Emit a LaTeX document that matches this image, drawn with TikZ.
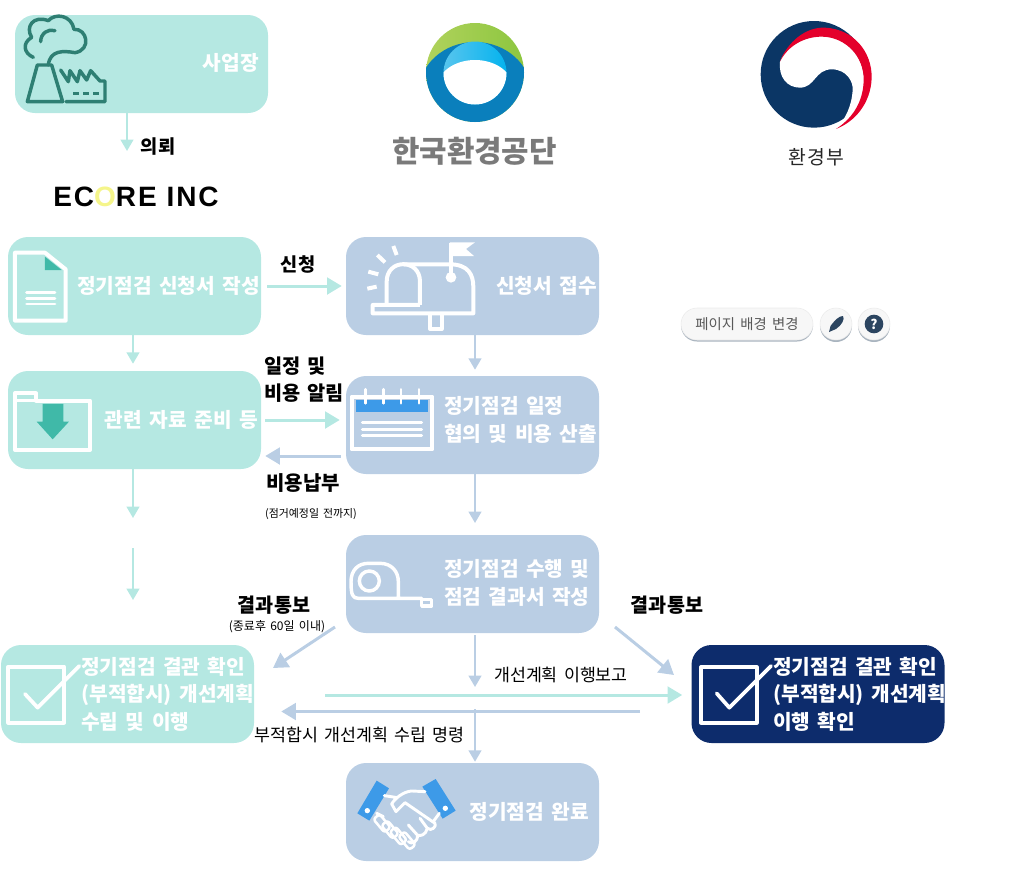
\documentclass[tikz,border=0pt]{standalone}
\usepackage{fontspec}
\setmainfont{Noto Sans CJK KR}[WordSpace=1.6]
\newfontfamily\latinfont{Liberation Sans}
\usetikzlibrary{arrows.meta}
\definecolor{tealbg}{HTML}{B5E8E2}
\definecolor{bluebg}{HTML}{BACEE4}
\definecolor{navybg}{HTML}{0D2C6C}
\definecolor{tealdark}{HTML}{2E7F73}
\definecolor{tealmid}{HTML}{40B9A8}
\definecolor{iconblue}{HTML}{3D9AE8}
\definecolor{taegeuk}{HTML}{0B3665}
\definecolor{taegeukred}{HTML}{E4002B}
\definecolor{ringblue}{HTML}{0A7FBC}
\definecolor{ringgreena}{HTML}{B0D25C}
\definecolor{ringgreenb}{HTML}{8CC63F}
\definecolor{ringcyana}{HTML}{5CC6EE}
\definecolor{ringcyanb}{HTML}{00B2EE}
\definecolor{btnshadow}{HTML}{A9B4BF}
\definecolor{btndark}{HTML}{2C4560}
\tikzset{
  flowbox/.style={minimum width=189.75pt,minimum height=73.5pt,inner sep=0,rounded corners=15pt},
  tealbox/.style={flowbox,fill=tealbg},
  bluebox/.style={flowbox,fill=bluebg},
  navybox/.style={flowbox,fill=navybg},
  boxtext/.style={text=white,font=\fontsize{15.2}{20.6}\selectfont\bfseries,inner sep=0,align=left},
  flowlabel/.style={font=\fontsize{14}{20.2}\selectfont\bfseries,inner sep=0,align=left},
  flownote/.style={font=\fontsize{13}{18}\selectfont,inner sep=0},
  smallnote/.style={font=\fontsize{8.2}{10}\selectfont,inner sep=0},
  thinarrow/.style={line width=1.5pt,-{Triangle[length=8.5pt,width=9.5pt]}},
  thickarrow/.style={line width=2.25pt,-{Triangle[length=11pt,width=12.5pt]}},
  iconline/.style={draw=white,line width=3pt,line join=round,line cap=round},
}
\begin{document}
\begin{tikzpicture}[x=0.75pt,y=-0.75pt]
\useasboundingbox (0,0) rectangle (1014,896);

%boxes
\node[tealbox] (site) at (141.5,64) {};
\node[tealbox] (apply) at (134.5,286) {};
\node[tealbox] (prep) at (134.5,420) {};
\node[bluebox] (receive) at (472.5,286) {};
\node[bluebox] (schedule) at (472.5,425) {};
\node[bluebox] (perform) at (472.5,584) {};
\node[tealbox] (checkl) at (127.5,694) {};
\node[navybox] (checkr) at (818,694) {};
\node[bluebox] (done) at (472.5,812) {};

%box texts
\node[boxtext,anchor=east] (sitetext) at (259,63) {사업장};
\node[boxtext,anchor=east] (applytext) at (260,286) {정기점검 신청서 작성};
\node[boxtext,anchor=east] (preptext) at (258,420) {관련 자료 준비 등};
\node[boxtext,anchor=east] (receivetext) at (597,286) {신청서 접수};
\node[boxtext,anchor=west] (scheduletext) at (444,420) {정기점검 일정\\협의 및 비용 산출};
\node[boxtext,anchor=west] (performtext) at (444,583) {정기점검 수행 및\\점검 결과서 작성};
\node[boxtext,anchor=west] (checkltext) at (81,694) {정기점검 결관 확인\\(부적합시) 개선계획\\수립 및 이행};
\node[boxtext,anchor=west] (checkrtext) at (773,694) {정기점검 결관 확인\\(부적합시) 개선계획\\이행 확인};
\node[boxtext,anchor=east] (donetext) at (589,812) {정기점검 완료};

%free ends
\coordinate (sitefoot) at (127,151);
\coordinate (leftx) at (133,0);
\coordinate (flowx) at (475,0);
\coordinate (gapa) at (133,518);
\coordinate (gapb) at (133,548);
\coordinate (gapc) at (133,600);
\coordinate (scheduleend) at (475,523);
\coordinate (payrow) at (0,456);
\coordinate (notelstart) at (335,627);
\coordinate (notelend) at (273,668);
\coordinate (noterstart) at (615,627);
\coordinate (noterend) at (674,675);
\coordinate (performend) at (475,687);
\coordinate (donestart) at (475,709);
\coordinate (reportstart) at (325,695);
\coordinate (orderstart) at (640,711.5);

%teal arrows
\draw[thinarrow,tealbg] (site.south -| sitefoot) -- (sitefoot);
\draw[thinarrow,tealbg,shorten >=5.25pt] (apply.south -| leftx) -- (prep.north -| leftx);
\draw[thinarrow,tealbg] (prep.south -| leftx) -- (gapa);
\draw[thinarrow,tealbg] (gapb) -- (gapc);
\draw[thickarrow,tealbg,shorten <=4.5pt,shorten >=3pt] (apply.east) -- (receive.west |- apply.east);
\draw[thickarrow,tealbg,shorten <=3pt,shorten >=4.5pt] (prep.east) -- (schedule.west |- prep.east);
\draw[thickarrow,tealbg,shorten >=6.75pt] (reportstart) -- (checkr.west |- reportstart);

%blue arrows
\draw[thinarrow,bluebg,shorten >=4.5pt] (receive.south -| flowx) -- (schedule.north -| flowx);
\draw[thinarrow,bluebg] (schedule.south -| flowx) -- (scheduleend);
\draw[thinarrow,bluebg,shorten <=1.5pt] (perform.south -| flowx) -- (performend);
\draw[thinarrow,bluebg,shorten >=0.75pt] (donestart) -- (done.north -| flowx);
\draw[thickarrow,bluebg,shorten <=3.75pt,shorten >=3pt] (schedule.west |- payrow) -- (prep.east |- payrow);
\draw[thickarrow,bluebg] (notelstart) -- (notelend);
\draw[thickarrow,bluebg] (noterstart) -- (noterend);
\draw[thickarrow,bluebg,shorten >=20.25pt] (orderstart) -- (checkl.east |- orderstart);

%labels
\node[flowlabel] (asklabel) at (158,147) {의뢰};
\node[flowlabel] (applylabel) at (298,264) {신청};
\node[flowlabel,anchor=west,font=\fontsize{14.8}{20.2}\selectfont\bfseries] (noticelabel) at (264,380) {일정 및\\비용 알림};
\node[flowlabel,font=\fontsize{15}{20}\selectfont\bfseries] (paylabel) at (303,483) {비용납부};
\node[smallnote] (paynote) at (311,514) {(점거예정일 전까지)};
\node[flowlabel,font=\fontsize{14.7}{20}\selectfont\bfseries] (resultl) at (274,605) {결과통보};
\node[smallnote,font=\fontsize{9}{10}\selectfont] (resultlnote) at (277,627) {(종료후 60일 이내)};
\node[flowlabel,font=\fontsize{14.7}{20}\selectfont\bfseries] (resultr) at (667,605) {결과통보};
\node[flownote] (reportlabel) at (561,675) {개선계획 이행보고};
\node[flownote] (orderlabel) at (359.5,735) {부적합시 개선계획 수립 명령};

%ecore
\node[inner sep=0,text=black,font=\latinfont\bfseries\fontsize{21}{24}\selectfont\addfontfeature{LetterSpace=7}] (ecore) at (136,197) {EC{\color[HTML]{F5F58A}O}RE INC};

%keco logo
\begin{scope}
\clip (475,72.5) ellipse [x radius=49,y radius=49.5];
\shade[left color=ringgreena,right color=ringgreenb] (426,20) rectangle (525,130);
\fill[ringblue] (475,92) ellipse [x radius=56,y radius=50];
\end{scope}
\begin{scope}
\clip (475,73) circle (31.5);
\shade[left color=ringcyana,right color=ringcyanb] (440,40) rectangle (510,110);
\fill[white] (475,88) ellipse [x radius=38,y radius=28];
\end{scope}
\node[inner sep=0,text=black!52,font=\fontsize{22.4}{24}\selectfont\bfseries] (ketext) at (474.5,151) {한국환경공단};

%ministry logo
\begin{scope}[shift={(750,10)},scale=0.3333]
\fill[taegeuk] (192,193) circle (160);
\fill[white] (90,155) .. controls (85,200) and (110,233) .. (150,233) .. controls (195,233) and (195,178) .. (245,178) .. controls (290,178) and (310,215) .. (308,240) .. controls (305,290) and (285,330) .. (258,356) .. controls (330,320) and (345,250) .. (342,200) .. controls (335,120) and (270,78) .. (215,78) .. controls (160,78) and (110,105) .. (90,155) -- cycle;
\fill[taegeukred] (90,155) .. controls (110,100) and (165,50) .. (225,53) .. controls (310,57) and (367,125) .. (365,205) .. controls (362,280) and (315,335) .. (258,357) .. controls (315,320) and (343,265) .. (341,200) .. controls (335,125) and (275,80) .. (215,80) .. controls (165,80) and (115,105) .. (90,155) -- cycle;
\end{scope}
\node[inner sep=0,text=black!85,font=\fontsize{14.5}{16}\selectfont\addfontfeature{LetterSpace=6}] (moetext) at (816.5,157) {환경부};

%page buttons
\fill[btnshadow,rounded corners=12pt] (681,310.5) rectangle (813,341.5);
\fill[btnshadow] (836,326) circle (16);
\fill[btnshadow] (874,326) circle (16);
\node[draw=black!8,fill=black!3,rounded corners=12pt,minimum width=99pt,minimum height=24pt,inner sep=0,text=black!65,font=\fontsize{10.8}{12}\selectfont] (bgbutton) at (747,324) {페이지 배경 변경};
\node[draw=black!8,fill=black!3,circle,minimum size=24pt,inner sep=0] (brushbutton) at (836,324) {};
\node[draw=black!8,fill=black!3,circle,minimum size=24pt,inner sep=0] (helpbutton) at (874,324) {};
\fill[btndark] (829,332) -- (830.5,326) .. controls (835,320) and (839,316) .. (843,316) .. controls (845,319) and (842,325) .. (836,329) -- cycle;
\node[fill=btndark,circle,minimum size=14pt,inner sep=0,text=white,font=\fontsize{10}{12}\selectfont\bfseries] (helpmark) at (874,324) {?};

%factory icon
\begin{scope}[scale=0.3333,draw=tealdark,line width=2.6pt,line join=round,line cap=round]
\draw (100,172) .. controls (72,160) and (65,130) .. (95,112) .. controls (75,80) and (100,45) .. (145,62) .. controls (165,38) and (215,45) .. (222,88) .. controls (262,85) and (275,150) .. (225,158) .. controls (190,152) and (150,150) .. (145,195);
\draw (122,125) .. controls (122,100) and (145,85) .. (165,92);
\draw (112,195) -- (155,195) -- (188,305) -- (82,305) -- cycle;
\draw (182,210) -- (205,245) -- (210,212) -- (232,245) -- (240,212) -- (260,240) -- (272,212) -- (300,243) -- (315,243) -- (315,305) -- (198,305);
\draw[line cap=butt,dash pattern=on 4.5pt off 3pt] (220,280) -- (298,280);
\end{scope}

%document icon
\begin{scope}[shift={(0,230)},scale=0.3333]
\draw[iconline] (45,68) -- (135,68) -- (197,118) -- (197,272) -- (45,272) -- cycle;
\fill[tealmid] (135,80) -- (185,120) -- (135,120) -- cycle;
\draw[iconline,line width=2.2pt] (80,187) -- (165,187) (80,205) -- (165,205) (80,222) -- (165,222);
\end{scope}

%folder icon
\begin{scope}[shift={(0,230)},scale=0.3333]
\draw[iconline] (45,490) -- (108,490) -- (108,512) -- (270,512) -- (270,660) -- (45,660) -- cycle;
\draw[iconline,line width=2.2pt] (45,512) -- (108,512);
\fill[tealmid] (128,522) -- (190,522) -- (190,575) -- (207,575) -- (158,628) -- (110,575) -- (128,575) -- cycle;
\end{scope}

%mailbox icon
\begin{scope}[shift={(340,230)},scale=0.3333]
\draw[iconline,line cap=butt] (82,176) -- (110,170) (85,125) -- (115,133) (112,75) -- (135,97) (160,48) -- (170,75);
\draw[iconline,line cap=butt] (140,225) -- (140,155) .. controls (140,85) and (240,85) .. (240,155) -- (240,225);
\draw[iconline,line cap=butt] (190,103) -- (330,103) .. controls (385,103) and (400,135) .. (400,170) -- (400,250) -- (98,250) -- (98,225) -- (240,225);
\draw[iconline,line cap=butt] (270,255) -- (270,297) -- (305,297) -- (305,255);
\draw[iconline,line cap=butt] (333,142) -- (333,40);
\fill[white] (330,37) -- (405,37) -- (378,57) -- (402,78) -- (330,78) -- cycle;
\fill[white] (333,142) circle (16);
\end{scope}

%calendar icon
\begin{scope}[shift={(340,230)},scale=0.3333]
\draw[iconline] (35,500) rectangle (277,658);
\fill[iconblue] (47,510) rectangle (265,545);
\foreach \pegx in {77,130,183,237} \draw[iconline,line width=2pt] (\pegx,478) -- (\pegx,520);
\foreach \liney in {578,598,617} \draw[iconline,line width=2.2pt] (67,\liney) -- (245,\liney);
\end{scope}

%tape icon
\begin{scope}[shift={(340,530)},scale=0.3333]
\draw[iconline,line width=2.6pt] (245,205) -- (55,205) .. controls (38,205) and (33,195) .. (33,155) .. controls (33,120) and (55,100) .. (85,100) -- (120,100) .. controls (155,100) and (175,125) .. (175,155) -- (175,205);
\draw[iconline,line width=2.6pt] (88,153) circle (30);
\draw[iconline,line width=2.6pt] (245,208) rectangle (275,228);
\end{scope}

%check icons
\begin{scope}[shift={(0,530)},scale=0.3333]
\draw[iconline] (25,410) rectangle (192,578);
\draw[iconline,line width=2.8pt] (75,492) -- (113,533) -- (238,408);
\end{scope}
\begin{scope}[shift={(600,580)},scale=0.3333]
\draw[iconline] (303,262) rectangle (470,428);
\draw[iconline,line width=2.8pt] (350,340) -- (388,383) -- (513,258);
\end{scope}

%handshake icon
\begin{scope}[shift={(340,530)},scale=0.3333]
\fill[iconblue] (110,752) -- (147,775) -- (88,872) -- (52,850) -- cycle;
\fill[iconblue] (247,770) -- (287,747) -- (347,842) -- (308,866) -- cycle;
\fill[white] (82,842) circle (8) (316,835) circle (8);
\draw[iconline,line width=2.2pt] (133,797) -- (172,803) (255,785) -- (215,783) .. controls (190,785) and (165,805) .. (155,822) -- (168,845) -- (195,818) -- (285,880) .. controls (290,890) and (275,905) .. (262,895) (298,850) -- (282,872) (240,865) -- (262,895) .. controls (258,915) and (240,920) .. (232,915) (205,885) -- (232,915) .. controls (235,935) and (215,945) .. (205,935) (110,850) -- (130,860);
\foreach \fingerx/\fingery in {126/880,150/899,175/918,201/932}
  \draw[iconline,line width=1.9pt,rounded corners=2pt,rotate around={-50:(\fingerx,\fingery)}] (\fingerx-26,\fingery-12) rectangle (\fingerx+26,\fingery+12);
\end{scope}
\end{tikzpicture}
\end{document}
